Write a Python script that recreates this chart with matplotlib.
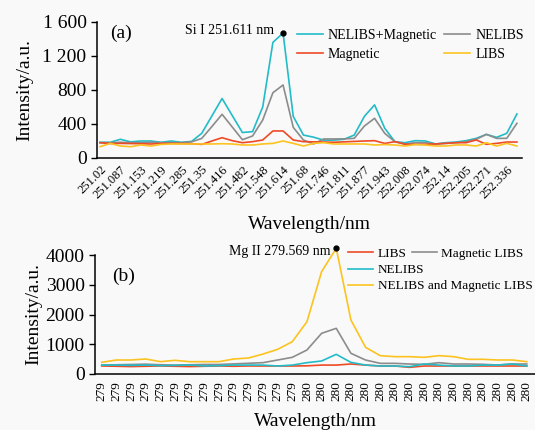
import matplotlib
matplotlib.use('Agg')
import matplotlib.pyplot as plt
import numpy as np

plt.rcParams['font.family'] = ['Liberation Serif', 'DejaVu Serif']

# ---- panel (a): Si I line ----
ticks_a = ['251.02', '251.087', '251.153', '251.219', '251.285', '251.35', '251.416',
           '251.482', '251.548', '251.614', '251.68', '251.746', '251.811', '251.877',
           '251.943', '252.008', '252.074', '252.14', '252.205', '252.271', '252.336']
nelibs_mag_a = [185, 185, 220, 190, 200, 200, 185, 200, 185, 195, 290, 495, 700, 500,
                300, 310, 600, 1360, 1470, 490, 270, 245, 210, 210, 220, 270, 490, 625,
                350, 192, 180, 204, 200, 165, 180, 188, 204, 231, 278, 243, 290, 518]
nelibs_a = [180, 180, 185, 180, 180, 185, 180, 180, 180, 190, 230, 370, 514, 365,
            215, 259, 447, 768, 859, 361, 212, 165, 224, 224, 225, 231, 376, 467,
            290, 192, 165, 180, 180, 165, 172, 180, 192, 220, 278, 231, 231, 408]
magnetic_a = [180, 170, 172, 170, 168, 165, 170, 172, 170, 168, 160, 200, 239, 204,
              180, 192, 212, 318, 318, 212, 192, 190, 188, 185, 190, 195, 200, 204,
              172, 192, 161, 161, 161, 165, 172, 180, 180, 212, 161, 172, 188, 188]
libs_a = [133, 172, 141, 133, 153, 141, 160, 165, 165, 165, 165, 165, 168, 165,
          153, 153, 165, 172, 200, 172, 141, 172, 180, 165, 165, 165, 165, 153,
          158, 153, 141, 158, 153, 141, 141, 153, 153, 141, 180, 141, 172, 141]

# ---- panel (b): Mg II line ----
ticks_b = ['279'] * 14 + ['280'] * 16
libs_b = [270, 260, 250, 260, 270, 260, 250, 260, 270, 260, 270, 269, 269, 269, 275,
          300, 300, 336, 300, 269, 269, 224, 269, 269, 269, 269, 269, 269, 269, 269]
magnetic_b = [300, 310, 320, 330, 310, 300, 310, 320, 320, 340, 360, 381, 470, 560, 807,
              1367, 1535, 695, 470, 358, 358, 336, 325, 381, 336, 336, 325, 302, 336, 336]
nelibs_b = [300, 300, 290, 300, 280, 290, 300, 270, 280, 300, 300, 300, 269, 300, 381,
            437, 661, 392, 300, 269, 269, 247, 336, 300, 269, 269, 300, 300, 336, 269]
nelibs_mag_b = [393, 470, 470, 504, 414, 460, 414, 414, 414, 504, 538, 670, 829, 1086, 1758,
                3440, 4225, 1815, 897, 616, 583, 583, 560, 616, 583, 493, 493, 471, 471, 414]

c_cyan = '#22bcc8'
c_grey = '#8c8c8c'
c_red = '#ee4a26'
c_yel = '#fcc320'
lw = 1.2

fig = plt.figure(figsize=(5.35, 4.3), dpi=100, facecolor='#f9f9f9')
ax1 = fig.add_axes([97 / 535, 1 - 158 / 430, 425 / 535, 136 / 430])
ax2 = fig.add_axes([95 / 535, 1 - 374 / 430, 440 / 535, 119 / 430])

for ax in (ax1, ax2):
    ax.set_facecolor('none')
    for s in ('top', 'right'):
        ax.spines[s].set_visible(False)
    for s in ('left', 'bottom'):
        ax.spines[s].set_linewidth(1.1)
    ax.tick_params(axis='x', length=0)
    ax.tick_params(axis='y', length=4, width=1, labelsize=14)

leg_kw = dict(frameon=False, handlelength=1.9, handletextpad=0.35,
              borderpad=0, borderaxespad=0, loc='upper left')

# panel (a)
xa = np.arange(len(nelibs_mag_a))
a1, = ax1.plot(xa, nelibs_mag_a, color=c_cyan, lw=lw, label='NELIBS+Magnetic', clip_on=False)
a2, = ax1.plot(xa, nelibs_a, color=c_grey, lw=lw, label='NELIBS', clip_on=False)
a3, = ax1.plot(xa, magnetic_a, color=c_red, lw=lw, label='Magnetic', clip_on=False)
a4, = ax1.plot(xa, libs_a, color=c_yel, lw=lw, label='LIBS', clip_on=False)
pk = int(np.argmax(nelibs_mag_a))
ax1.plot(pk, nelibs_mag_a[pk], 'o', color='black', ms=3.5, clip_on=False)
ax1.text(pk - 0.9, nelibs_mag_a[pk] + 30, 'Si I 251.611 nm', ha='right', va='center', fontsize=10)
ax1.set_xlim(-0.3, 41.5)
ax1.set_ylim(0, 1600)
ax1.set_yticks([0, 400, 800, 1200, 1600])
ax1.set_yticklabels(['0', '400', '800', '1 200', '1 600'])
ax1.set_xticks(np.arange(0, len(xa), 2))
ax1.set_xticklabels(ticks_a, rotation=45, ha='right', rotation_mode='anchor', fontsize=9)
ax1.tick_params(axis='x', pad=4)
ax1.set_ylabel('Intensity/a.u.', fontsize=14)
ax1.yaxis.set_label_coords(-0.151, 0.5)
ax1.set_xlabel('Wavelength/nm', fontsize=14)
ax1.xaxis.set_label_coords(0.5, -0.43)
ax1.text(0.03, 0.92, '(a)', transform=ax1.transAxes, fontsize=14, va='center')
ax1.legend(handles=[a1, a3, a2, a4], ncol=2, bbox_to_anchor=(0.47, 0.95), fontsize=10,
           columnspacing=0.5, labelspacing=0.45, **leg_kw)

# panel (b)
xb = np.arange(len(libs_b))
l1, = ax2.plot(xb, libs_b, color=c_red, lw=lw, label='LIBS', clip_on=False)
l2, = ax2.plot(xb, magnetic_b, color=c_grey, lw=lw, label='Magnetic LIBS', clip_on=False)
l3, = ax2.plot(xb, nelibs_b, color=c_cyan, lw=lw, label='NELIBS', clip_on=False)
l4, = ax2.plot(xb, nelibs_mag_b, color=c_yel, lw=lw, label='NELIBS and Magnetic LIBS', clip_on=False)
pk = int(np.argmax(nelibs_mag_b))
ax2.plot(pk, nelibs_mag_b[pk], 'o', color='black', ms=3.5, clip_on=False)
ax2.text(pk - 0.4, nelibs_mag_b[pk] - 120, 'Mg II 279.569 nm', ha='right', va='center', fontsize=10)
ax2.set_xlim(-0.46, 29.56)
ax2.set_ylim(0, 4000)
ax2.set_yticks([0, 1000, 2000, 3000, 4000])
ax2.set_xticks(xb)
ax2.set_xticklabels(ticks_b, rotation=90, fontsize=9.5)
ax2.tick_params(axis='x', pad=5)
ax2.set_ylabel('Intensity/a.u.', fontsize=14)
ax2.yaxis.set_label_coords(-0.12, 0.5)
ax2.set_xlabel('Wavelength/nm', fontsize=14)
ax2.xaxis.set_label_coords(0.5, -0.33)
ax2.text(0.04, 0.82, '(b)', transform=ax2.transAxes, fontsize=14, va='center')
leg1 = ax2.legend(handles=[l1, l3, l4], bbox_to_anchor=(0.575, 1.06), fontsize=9.5,
                  labelspacing=0.3, **leg_kw)
ax2.add_artist(leg1)
ax2.legend(handles=[l2], bbox_to_anchor=(0.72, 1.06), fontsize=9.5, **leg_kw)

fig.savefig('out.png', dpi=100, facecolor=fig.get_facecolor())
